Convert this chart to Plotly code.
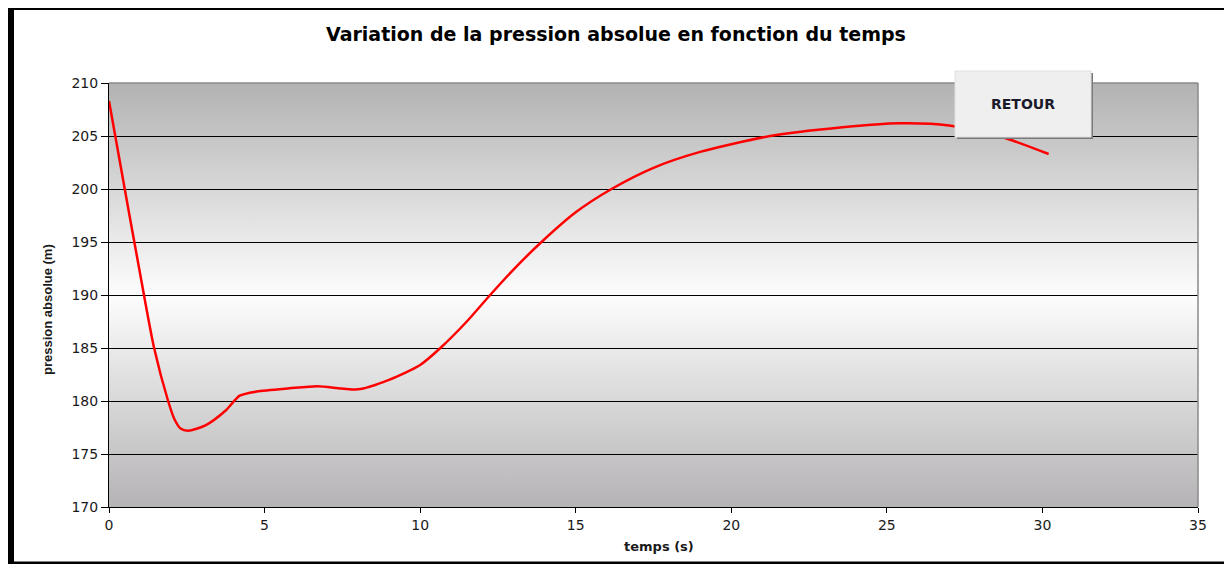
# Variation de la pression absolue en fonction du temps
import base64
import plotly.graph_objects as go

temps_s = [0, 0.5, 1.0, 1.45, 1.9, 2.1, 2.3, 2.55, 3.1, 3.75, 4.2, 4.75, 5.8,
           6.7, 8.0, 9.0, 10.0, 10.65, 11.5, 12.25, 13.0, 13.9, 15.0, 16.15,
           17.5, 19.0, 21.25, 23.5, 25.4, 27.0, 28.7, 30.2]
pression_m = [208.3, 200.1, 192.0, 185.0, 180.0, 178.3, 177.4, 177.2, 177.7,
              179.1, 180.5, 180.9, 181.2, 181.4, 181.1, 182.0, 183.4, 185.0,
              187.5, 190.0, 192.4, 195.0, 197.8, 200.0, 202.0, 203.5, 205.0,
              205.8, 206.2, 206.0, 204.9, 203.3]

x_ticks = [0, 5, 10, 15, 20, 25, 30, 35]
y_ticks = [170, 175, 180, 185, 190, 195, 200, 205, 210]

# la page html a une marge de 8px : on travaille en coordonnées de page
OFF = 8
W, H = 1232 - OFF, 564 - OFF
L, R, T, B = 109 - OFF, 1232 - 1198, 83 - OFF, 564 - 507
PW, PH = W - L - R, H - T - B


def px(x):
    return (x - OFF - L) / PW


def py(y):
    return (H - B - (y - OFF)) / PH


# fond dégradé style Excel (gris - blanc - gris)
svg = (
    '<svg xmlns="http://www.w3.org/2000/svg" viewBox="0 0 10 100" '
    'preserveAspectRatio="none" width="10" height="100">'
    '<defs><linearGradient id="g" x1="0" y1="0" x2="0" y2="1">'
    '<stop offset="0" stop-color="#b2b2b2"/>'
    '<stop offset="0.5" stop-color="#fdfdfd"/>'
    '<stop offset="1" stop-color="#b5b3b5"/>'
    '</linearGradient></defs>'
    '<rect x="0" y="0" width="10" height="100" fill="url(#g)"/></svg>'
)
svg_src = "data:image/svg+xml;base64," + base64.b64encode(svg.encode()).decode()

fig = go.Figure()
fig.add_trace(go.Scatter(
    x=temps_s,
    y=pression_m,
    mode="lines",
    line=dict(color="#ff0000", width=2.5, shape="spline", smoothing=0.7),
    hoverinfo="skip",
    showlegend=False,
))

axis_font = dict(family="DejaVu Sans, sans-serif", size=14, color="#1a1a1a")

fig.update_layout(
    width=W,
    height=H,
    margin=dict(l=L, r=R, t=T, b=B),
    paper_bgcolor="white",
    plot_bgcolor="rgba(0,0,0,0)",
    xaxis=dict(
        range=[0, 35],
        tickvals=x_ticks,
        showgrid=False,
        zeroline=False,
        showline=True,
        linecolor="black",
        linewidth=1,
        ticks="outside",
        ticklen=5,
        tickcolor="black",
        tickfont=axis_font,
    ),
    yaxis=dict(
        range=[170, 210],
        tickvals=y_ticks,
        showgrid=True,
        gridcolor="black",
        gridwidth=1,
        zeroline=False,
        showline=True,
        linecolor="black",
        linewidth=1,
        ticks="outside",
        ticklen=7,
        tickcolor="black",
        tickfont=axis_font,
    ),
    images=[dict(
        source=svg_src,
        xref="x", yref="y",
        x=0, y=210, sizex=35, sizey=40,
        sizing="stretch",
        xanchor="left", yanchor="top",
        layer="below",
    )],
)

shapes = [
    # bord gris du cadre du graphique (haut et droite)
    dict(type="line", xref="paper", yref="paper", x0=0, x1=1, y0=1, y1=1,
         line=dict(color="#8a8a8a", width=1.5)),
    dict(type="line", xref="paper", yref="paper", x0=1, x1=1, y0=0, y1=1,
         line=dict(color="#8a8a8a", width=1.5)),
    # bouton RETOUR (ombre puis face)
    dict(type="rect", xref="paper", yref="paper",
         x0=px(957), x1=px(1093), y0=py(139), y1=py(73),
         fillcolor="#7a7a7a", line=dict(width=0), layer="above"),
    dict(type="rect", xref="paper", yref="paper",
         x0=px(955), x1=px(1091), y0=py(137), y1=py(71),
         fillcolor="#efefef", line=dict(color="#e0e0e0", width=1), layer="above"),
    # cadre noir de la fenêtre
    dict(type="rect", xref="paper", yref="paper",
         x0=px(8), x1=px(14), y0=py(564), y1=py(8),
         fillcolor="black", line=dict(width=0), layer="above"),
    dict(type="rect", xref="paper", yref="paper",
         x0=px(8), x1=px(1232), y0=py(10), y1=py(8),
         fillcolor="black", line=dict(width=0), layer="above"),
    dict(type="rect", xref="paper", yref="paper",
         x0=px(1225), x1=px(1232), y0=py(564), y1=py(8),
         fillcolor="black", line=dict(width=0), layer="above"),
    dict(type="rect", xref="paper", yref="paper",
         x0=px(8), x1=px(1232), y0=py(564), y1=py(561.5),
         fillcolor="black", line=dict(width=0), layer="above"),
]
fig.update_layout(shapes=shapes)

fig.add_annotation(
    text="<b>Variation de la pression absolue en fonction du temps</b>",
    xref="paper", yref="paper", x=px(616), y=py(34),
    showarrow=False, xanchor="center", yanchor="middle",
    font=dict(family="DejaVu Sans, sans-serif", size=19, color="black"),
)
fig.add_annotation(
    text="<b>temps (s)</b>",
    xref="paper", yref="paper", x=px(659), y=py(546),
    showarrow=False, xanchor="center", yanchor="middle",
    font=dict(family="DejaVu Sans, sans-serif", size=13, color="#1a1a1a"),
)
fig.add_annotation(
    text="<b>pression absolue (m)</b>",
    xref="paper", yref="paper", x=px(47), y=py(310),
    showarrow=False, xanchor="center", yanchor="middle", textangle=-90,
    font=dict(family="Liberation Sans Narrow, Liberation Sans, Arial, sans-serif",
              size=13, color="#1a1a1a"),
)
fig.add_annotation(
    text="<b>RETOUR</b>",
    xref="paper", yref="paper", x=px(1023), y=py(104),
    showarrow=False, xanchor="center", yanchor="middle",
    font=dict(family="DejaVu Sans, sans-serif", size=14, color="#1a1a2a"),
)

fig.write_html("out.html")
